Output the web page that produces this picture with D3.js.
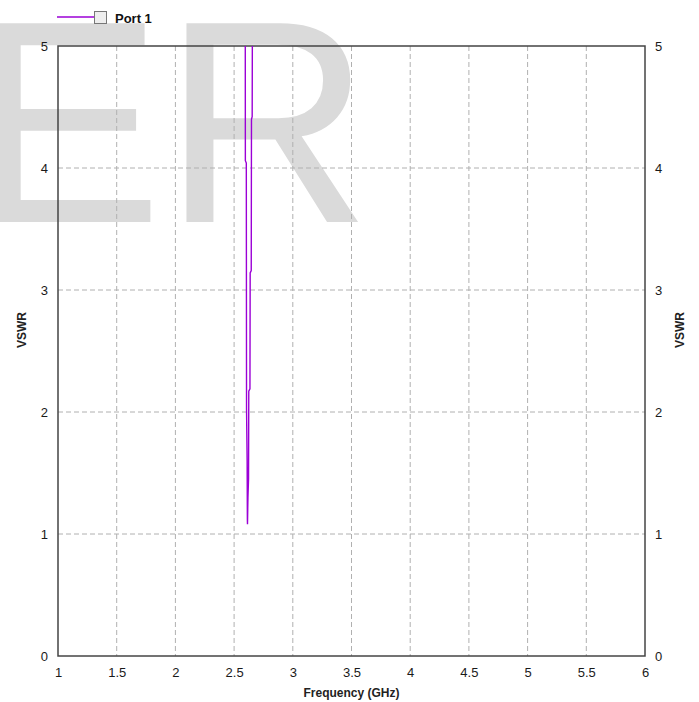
<!DOCTYPE html>
<html>
<head>
<meta charset="utf-8">
<script src="https://cdn.jsdelivr.net/npm/d3@7"></script>
<style>
  body { margin: 0; background: #fff; }
  svg { font-family: "Liberation Sans", Arial, sans-serif; }
</style>
</head>
<body>
<script>
// sweep values (VSWR of port 1)
var freq = [2.5950, 2.5960, 2.6040, 2.6060, 2.6110, 2.6130, 2.6140,
            2.6180, 2.6230, 2.6250, 2.6350, 2.6370, 2.6460, 2.6480, 2.6540, 2.6560];
var vswr = [5.30, 4.06, 4.04, 2.02, 1.60, 1.12, 1.08,
            1.30, 1.45, 2.17, 2.19, 3.14, 3.16, 4.40, 4.42, 5.30];
var xTicks = [1, 1.5, 2, 2.5, 3, 3.5, 4, 4.5, 5, 5.5, 6];
var yTicks = [0, 1, 2, 3, 4, 5];
var seriesName = "Port 1";

var width = 699, height = 702;
// plot box ("top" is taken by window.top, so prefix them)
var pLeft = 58, pRight = 645, pTop = 46, pBottom = 656;
var lineColor = "#9b00d6";

var svg = d3.select("body")
    .append("svg")
    .attr("width", width)
    .attr("height", height);

// big watermark behind everything
svg.append("text")
    .attr("x", -30)
    .attr("y", 222)
    .attr("font-size", 289)
    .attr("fill", "#dadada")
    .text("ER");

var xScale = d3.scaleLinear().domain([1, 6]).range([pLeft, pRight]);
var yScale = d3.scaleLinear().domain([0, 5]).range([pBottom, pTop]);

// grid
svg.append("g")
    .selectAll("line")
    .data(xTicks.slice(1, -1))
    .enter()
    .append("line")
    .attr("x1", function(d) { return xScale(d); })
    .attr("x2", function(d) { return xScale(d); })
    .attr("y1", pTop)
    .attr("y2", pBottom)
    .attr("stroke", "#b0b0b0")
    .attr("stroke-dasharray", "5,3");

svg.append("g")
    .selectAll("line")
    .data(yTicks.slice(1, -1))
    .enter()
    .append("line")
    .attr("x1", pLeft)
    .attr("x2", pRight)
    .attr("y1", function(d) { return yScale(d); })
    .attr("y2", function(d) { return yScale(d); })
    .attr("stroke", "#b0b0b0")
    .attr("stroke-dasharray", "5,3");

// axes
var fmt = d3.format("~g");
var xAxis = d3.axisBottom(xScale).tickValues(xTicks).tickSize(0).tickPadding(12).tickFormat(fmt);
var yLeft = d3.axisLeft(yScale).tickValues(yTicks).tickSize(0).tickPadding(10).tickFormat(fmt);
var yRight = d3.axisRight(yScale).tickValues(yTicks).tickSize(0).tickPadding(10).tickFormat(fmt);

function styleAxis(g) {
    g.select(".domain").remove();
    g.selectAll("text").attr("font-size", 13).attr("fill", "#1a1a1a")
        .attr("font-family", "Liberation Sans, Arial, sans-serif");
}

svg.append("g").attr("transform", "translate(0," + pBottom + ")").call(xAxis).call(styleAxis);
svg.append("g").attr("transform", "translate(" + pLeft + ",0)").call(yLeft).call(styleAxis);
svg.append("g").attr("transform", "translate(" + pRight + ",0)").call(yRight).call(styleAxis);

// frame
svg.append("rect")
    .attr("x", pLeft)
    .attr("y", pTop)
    .attr("width", pRight - pLeft)
    .attr("height", pBottom - pTop)
    .attr("fill", "none")
    .attr("stroke", "#444")
    .attr("stroke-width", 1.5);

// curve
svg.append("clipPath").attr("id", "plot")
    .append("rect")
    .attr("x", pLeft).attr("y", pTop)
    .attr("width", pRight - pLeft).attr("height", pBottom - pTop);

var line = d3.line()
    .x(function(d, i) { return xScale(freq[i]); })
    .y(function(d) { return yScale(d); });

svg.append("path")
    .datum(vswr)
    .attr("clip-path", "url(#plot)")
    .attr("d", line)
    .attr("fill", "none")
    .attr("stroke", lineColor)
    .attr("stroke-width", 1.4);

// axis titles
svg.append("text")
    .attr("x", (pLeft + pRight) / 2)
    .attr("y", 697)
    .attr("text-anchor", "middle")
    .attr("font-size", 12)
    .attr("font-weight", "bold")
    .attr("fill", "#222")
    .text("Frequency (GHz)");

svg.append("text")
    .attr("transform", "translate(26,330) rotate(-90)")
    .attr("text-anchor", "middle")
    .attr("font-size", 12)
    .attr("font-weight", "bold")
    .attr("fill", "#222")
    .text("VSWR");

svg.append("text")
    .attr("transform", "translate(684,330) rotate(-90)")
    .attr("text-anchor", "middle")
    .attr("font-size", 12)
    .attr("font-weight", "bold")
    .attr("fill", "#222")
    .text("VSWR");

// legend
var legend = svg.append("g");
legend.append("line")
    .attr("x1", 57).attr("x2", 94)
    .attr("y1", 17).attr("y2", 17)
    .attr("stroke", lineColor)
    .attr("stroke-width", 1.4);
legend.append("rect")
    .attr("x", 94.5).attr("y", 11.5)
    .attr("width", 12).attr("height", 12)
    .attr("fill", "#eeeeee")
    .attr("stroke", "#777");
legend.append("text")
    .attr("x", 115)
    .attr("y", 23)
    .attr("font-size", 13)
    .attr("font-weight", "bold")
    .attr("fill", "#111")
    .text(seriesName);
</script>
</body>
</html>
